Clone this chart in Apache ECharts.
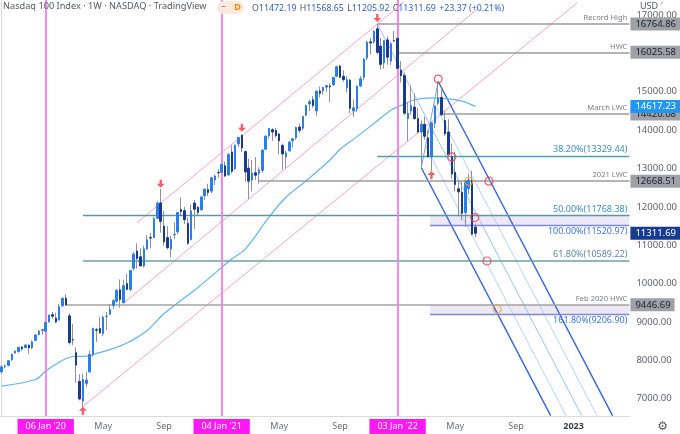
<!DOCTYPE html>
<html><head><meta charset="utf-8">
<script src="https://cdn.jsdelivr.net/npm/echarts@6/dist/echarts.min.js"></script>
<style>html,body{margin:0;padding:0;background:#fff}#c{width:680px;height:434px}</style>
</head><body><div id="c"></div>
<script>
// weekly candles, index 0 = week of 07 Oct 2019
const opens = [7700,7840,7870,8020,8190,8230,8350,8330,8400,8330,8520,8670,8780,8760,9000,9190,9100,9050,9420,9620,
9160,8540,8200,7450,6940,7400,7700,8150,8800,8830,8700,9150,9200,9430,9540,9840,9500,10000,9850,10400,
10850,10700,10460,10900,11200,11200,11700,12100,11500,11200,10900,11270,11350,11930,11900,11570,11150,12100,11990,11920,
12290,12450,12410,12700,12900,12900,13070,12830,13430,12990,13640,13870,13440,13010,12700,12890,12870,12950,13500,13850,
14010,13990,13900,13600,13300,13460,13720,13800,14080,14050,14390,14680,14790,14500,15020,15020,15120,15150,15180,15400,
15670,15400,15100,15300,14500,14550,15150,15380,15880,16300,16300,16640,16190,15750,16350,15800,16330,16390,15560,15420,
14300,14500,14600,14300,13950,14150,13800,13300,14180,14700,14850,14250,13950,13300,12900,12470,12380,11850,12480,12700,11472.19];
const highs = [7880,7900,8010,8170,8260,8350,8370,8420,8410,8520,8680,8790,8810,9000,9190,9260,9240,9470,9630,9720,
9220,8950,8340,7640,7650,7700,8250,8850,8850,9130,9170,9260,9470,9600,9850,10110,10100,10250,10350,10830,
11050,10920,10990,11260,11320,11740,12140,12465,11900,11500,11250,11600,11860,12250,12000,11720,12060,12180,12030,12280,
12470,12600,12780,12840,12980,13130,13190,13400,13600,13620,13810,13880,13470,13250,13220,13300,13030,13490,13850,14060,
14050,14060,13910,13650,13470,13720,13780,14090,14170,14370,14660,14790,14890,15020,15130,15120,15180,15220,15380,15660,
15700,15560,15400,15340,14800,15160,15410,15870,16320,16400,16610,16764.86,16400,16340,16440,16300,16580,16670,15800,15500,
14730,15160,14950,14580,14250,14350,14000,14200,14650,15265,15090,14500,14280,13650,13440,12700,12660,12700,12870,12940,11568.65];
const lows = [7650,7790,7840,7980,8170,8200,8250,8320,8170,8290,8510,8660,8670,8700,8990,9080,8970,9040,9400,9420,
8410,8400,7420,6960,6771,7300,7680,8100,8480,8690,8630,8790,9190,9340,9500,9370,9490,9830,9800,10350,
10390,10450,10420,10880,10920,11190,11700,11330,10990,10890,10680,11170,11290,11770,11550,11000,11120,11420,11780,11900,
12180,12280,12350,12570,12760,12610,12780,12820,12870,12960,13560,13430,12650,12210,12400,12700,12600,12880,13490,13780,
13720,13800,13370,12970,13000,13440,13550,13750,13920,14000,14370,14500,14580,14370,14850,14930,15000,14730,15150,15400,
15370,15260,14980,14440,14350,14470,15120,15300,15820,15970,16240,15980,15580,15600,15700,15700,16300,15520,15240,14400,
13720,14400,14270,13900,13020,13750,13300,12942,14050,14650,14370,13850,13350,12730,12410,11760,11650,11480,12330,11260,11205.92];
const closes = [7830,7850,7990,8160,8240,8340,8300,8400,8330,8480,8660,8760,8800,8990,9180,9150,9000,9400,9620,9446.69,
8462,8530,7875,6994,7502,7487,8153,8832,8785,8718,9121,9152,9325,9555,9824,9588,9946,9849,10341,10768,
10656,10461,10905,11140,11186,11690,12100,11622,11088,10938,11151,11283,11853,11877,11665,11052,11895,11937,11854,12258,
12464,12375,12756,12804,12888,13105,12803,13366,12925,13611,13807,13535,12909,12668.51,12880,12823,12960,13480,13845,14041,
13951,13860,13720,13379,13406,13686,13773,14069,13994,14356,14640,14740,14643,15017,14960,15110,15160,15126,15374,15652,
15374,15317,15310,14566,14580,15146,15335,15850,16290,16270,16573,16025.58,15712,16331,15900,16250,16320,15610,15420,14439,
14441,14640,14300,13950,14150,13840,13300,14190,14620,14840,14400,13900,13360,12855,12580,12390,11836,12680,12700,11288.32,11311.69];

// moving average (at selected weeks)
const maIdx = [0,10,13,17,21,25,28,32,37,43,48,58,68,72,79,84,90,97,100,105,110,115,118,122,127,132,136,140];
const maVal = [7330,7500,7720,7950,8100,8110,8180,8280,8450,8780,9220,9900,10640,10900,11730,12250,12680,13220,13500,13830,14170,14520,14640,14790,14840,14815,14755,14617.23];

// axis ticks
const xTickIdx = [13,30,48,65,82,100,117,134,152,169];
const xTickText = ["06 Jan '20","May","Sep","04 Jan '21","May","Sep","03 Jan '22","May","Sep","2023"];
const yTicks = [7000,8000,9000,10000,11000,12000,13000,14000,15000,16000,17000];

// horizontal levels
const levelNames = ['Record High','HWC','March LWC','38.20%(13329.44)','2021 LWC','50.00%(11768.38)','100.00%(11520.97)','61.80%(10589.22)','Feb 2020 HWC','161.80%(9206.90)'];
const levelValues = [16764.86,16025.58,14420.08,13329.44,12668.51,11768.38,11520.97,10589.22,9446.69,9206.90];
const levelStart = [111,117,130,111,75.9,24,126.6,24,19,126.6];
const levelKind = ['name','name','name','fib','name','fib','fibB','fib2','name','fibB'];

// right-axis price tags
const tagValues = [16764.86,16025.58,14420.08,14617.23,12668.51,11311.69,9446.69];
const tagKind = ['g','g','g','ma','g','last','g'];

// shaded zones
const zones = [[126.6,11520.97,11768.38],[126.6,9206.90,9446.69]];

// channel lines (week index, price)
const pinkLines = [
  [[24,6800],[170,17312]],
  [[36,9490],[141,17186]],
  [[40,11587],[119,17347]]
];
const pfA = [111,16764.86], pfB = [124,13020], pfC = [129,15265];
const pfSlope = 169; // price points per week along the fork
const axisMinV = 6560;

// markers
const redCircles = [[129,15330],[133,13300],[144,12668],[139.8,11720],[143.4,10589]];
const orangeCircles = [[138,12663],[146.4,9340]];
const downArrows = [[47,12600],[71,14060],[111,16920]];
const upArrows = [[24,6690],[127,12830]];
const vLines = [13,65,117];

const UP = '#2b7de9', DOWN = '#1a3a8c', WICK = '#8e9199';
const F = 'Noto Sans';

const wickData = opens.map((o,i)=>[i,o,closes[i],lows[i],highs[i]]);
const bodyData = opens.map((o,i)=>[i,o,closes[i],Math.min(o,closes[i]),Math.max(o,closes[i])]);

function forkEnd(p){ return [p[0] + (p[1]-axisMinV)/pfSlope, axisMinV]; }
const pfQ1 = [pfB[0]+(pfC[0]-pfB[0])*0.25, pfB[1]+(pfC[1]-pfB[1])*0.25];
const pfQ3 = [pfB[0]+(pfC[0]-pfB[0])*0.75, pfB[1]+(pfC[1]-pfB[1])*0.75];

const lineSeries = [];
function addLine(pts,color,width){
  lineSeries.push({type:'line',xAxisIndex:0,yAxisIndex:0,data:pts,symbol:'none',silent:true,
    lineStyle:{color:color,width:width},z:3,animation:false});
}
pinkLines.forEach(p=>addLine(p,'#f7a3c0',1));
addLine([pfA,forkEnd(pfA)],'#9cc2f2',1);
addLine([pfQ1,forkEnd(pfQ1)],'#b7d3f5',1);
addLine([pfQ3,forkEnd(pfQ3)],'#b7d3f5',1);
addLine([pfB,forkEnd(pfB)],'#3565d6',1.4);
addLine([pfC,forkEnd(pfC)],'#3565d6',1.4);
addLine([pfB,pfC],'#7aa0e6',1);
addLine(maIdx.map((x,i)=>[x,maVal[i]]),'#62b4f2',1.2);
lineSeries[lineSeries.length-1].smooth = 0.35;

const kindStyle = {
  name:{line:'#9b9b9b',text:'#7a7d85',pos:'insideEndTop',w:1.6,fs:7.6},
  fib:{line:'#4e9fb4',text:'#3d8fc0',pos:'insideEndTop',w:1.4,fs:9},
  fib2:{line:'#6f9ea8',text:'#5b88a6',pos:'insideEndTop',w:1.6,fs:9},
  fibB:{line:'#7f86d6',text:'#3f78d8',pos:'insideEndBottom',w:1.3,fs:9}
};
const levelLines = levelNames.map((n,i)=>{
  const s = kindStyle[levelKind[i]];
  return [{coord:[levelStart[i],levelValues[i]],lineStyle:{color:s.line,width:s.w,type:'solid'},
    label:{show:true,formatter:n,position:s.pos,color:s.text,fontSize:s.fs,fontFamily:F,distance:2}},
    {coord:[185.5,levelValues[i]]}];
});
levelLines[5][0].lineStyle.color = '#5f95a3';
levelLines[8][0].lineStyle.color = '#a3a3a3';

const tagStyle = {
  g:{bg:'#9ea1a8',fg:'#1d1f24'},
  ma:{bg:'#2196f3',fg:'#ffffff'},
  last:{bg:'#173b8e',fg:'#ffffff'}
};
const tagLines = tagValues.map((v,i)=>{
  const s = tagStyle[tagKind[i]];
  return [{coord:[184.5,v],lineStyle:{color:'rgba(0,0,0,0)',width:0.01},
    label:{show:true,position:'end',distance:1,formatter:v.toFixed(2),backgroundColor:s.bg,color:s.fg,opacity:1,
      fontSize:9.5,fontFamily:F,padding:[2,4,1,5]}},
    {coord:[185.5,v]}];
});

const option = {
  animation:false,
  backgroundColor:'#ffffff',
  grid:{left:-2,right:44,top:0,bottom:16,containLabel:false},
  xAxis:{type:'value',min:-0.5,max:185.5,
    axisLine:{show:true,lineStyle:{color:'#d9dbe0'}},axisTick:{show:false},splitLine:{show:false},
    axisLabel:{customValues:xTickIdx,margin:3,fontFamily:F,fontSize:9,color:'#6a6d75',
      formatter:function(v){const k=xTickIdx.indexOf(Math.round(v)); if(k<0) return '';
        const t=xTickText[k]; if(t.indexOf("'")>=0) return '{m|'+t+'}'; if(t==='2023') return '{b|'+t+'}'; return '{n|'+t+'}';},
      rich:{m:{backgroundColor:'#ff19f4',color:'#ffffff',padding:[3,8,3,8],fontSize:9,fontFamily:F},
            n:{color:'#6a6d75',fontSize:9,fontFamily:F,padding:[3,0,0,0]},
            b:{color:'#3a3d45',fontSize:9,fontWeight:'bold',fontFamily:F,padding:[3,0,0,0]}}}},
  yAxis:{type:'value',position:'right',min:6550,max:17390,
    axisLine:{show:true,lineStyle:{color:'#d9dbe0'}},axisTick:{show:false},splitLine:{show:false},
    axisLabel:{customValues:yTicks,margin:7,fontFamily:F,fontSize:9.5,color:'#5f6168',formatter:v=>v.toFixed(2)}},
  series:[
    {type:'candlestick',name:'wick',data:wickData,encode:{x:0,y:[1,2,3,4]},barWidth:1,z:4,silent:true,
      itemStyle:{color:WICK,color0:WICK,borderColor:WICK,borderColor0:WICK,borderWidth:1},
      markArea:{silent:true,itemStyle:{color:'#ece8f6'},data:zones.map(z=>[{coord:[z[0],z[1]]},{coord:[185.5,z[2]]}])},
      markLine:{silent:true,symbol:'none',data:levelLines.concat(
        vLines.map(x=>[{coord:[x,6550],lineStyle:{color:'#f27cf0',width:1.8,type:'solid'},label:{show:false}},{coord:[x,17390]}]))}
    },
    {type:'candlestick',name:'body',data:bodyData,encode:{x:0,y:[1,2,3,4]},barWidth:2,z:5,silent:true,
      itemStyle:{color:UP,color0:DOWN,borderColor:UP,borderColor0:DOWN,borderWidth:1},
      markLine:{silent:true,symbol:'none',z:20,data:tagLines}
    },
    ...lineSeries,
    {type:'scatter',data:redCircles,symbol:'circle',symbolSize:8,z:8,silent:true,
      itemStyle:{color:'rgba(255,255,255,0)',borderColor:'#f0394b',borderWidth:1.2}},
    {type:'scatter',data:orangeCircles,symbol:'circle',symbolSize:8,z:8,silent:true,
      itemStyle:{color:'rgba(255,255,255,0)',borderColor:'#f2a33a',borderWidth:1.2}},
    {type:'scatter',data:downArrows,symbol:'path://M3.5,0 L6.5,0 L6.5,5 L10,5 L5,10 L0,5 L3.5,5 Z',symbolSize:[8,8],z:8,silent:true,
      itemStyle:{color:'#f23645'}},
    {type:'scatter',data:upArrows,symbol:'path://M5,0 L10,5 L6.5,5 L6.5,10 L3.5,10 L3.5,5 L0,5 Z',symbolSize:[8,8],z:8,silent:true,
      itemStyle:{color:'#f23645'}}
  ],
  graphic:[
    {type:'text',left:3,top:2,z:100,style:{text:'Nasdaq 100 Index · 1W · NASDAQ · TradingView',fontFamily:F,fontSize:9.2,fill:'#55585f'}},
    {type:'rect',left:217,top:1,z:100,shape:{width:27,height:13,r:6.5},style:{fill:'#fbeadb'}},
    {type:'text',left:221,top:1,z:101,style:{text:'–',fontFamily:F,fontSize:10,fill:'#8a8d94'}},
    {type:'text',left:234,top:2,z:101,style:{text:'D',fontFamily:F,fontSize:9.5,fontWeight:'bold',fill:'#f08a1c'}},
    {type:'text',left:252,top:2,z:100,style:{text:'{l|O}{v|11472.19} {l|H}{v|11568.65} {l|L}{v|11205.92} {l|C}{v|11311.69} {v|+23.37 (+0.21%)}',
      rich:{l:{fontFamily:F,fontSize:8.8,fill:'#55585f'},v:{fontFamily:F,fontSize:8.8,fill:'#2f62c9'}}}},
    {type:'text',right:17,top:2,z:100,style:{text:'USD ˅',fontFamily:F,fontSize:9,fill:'#55585f'}},
    {type:'text',right:12,bottom:1,z:100,style:{text:'⚙',fontFamily:'DejaVu Sans',fontSize:12,fill:'#55585f'}}
  ]
};
const chart = echarts.init(document.getElementById('c'),null,{renderer:'canvas'});
chart.setOption(option);
</script></body></html>
